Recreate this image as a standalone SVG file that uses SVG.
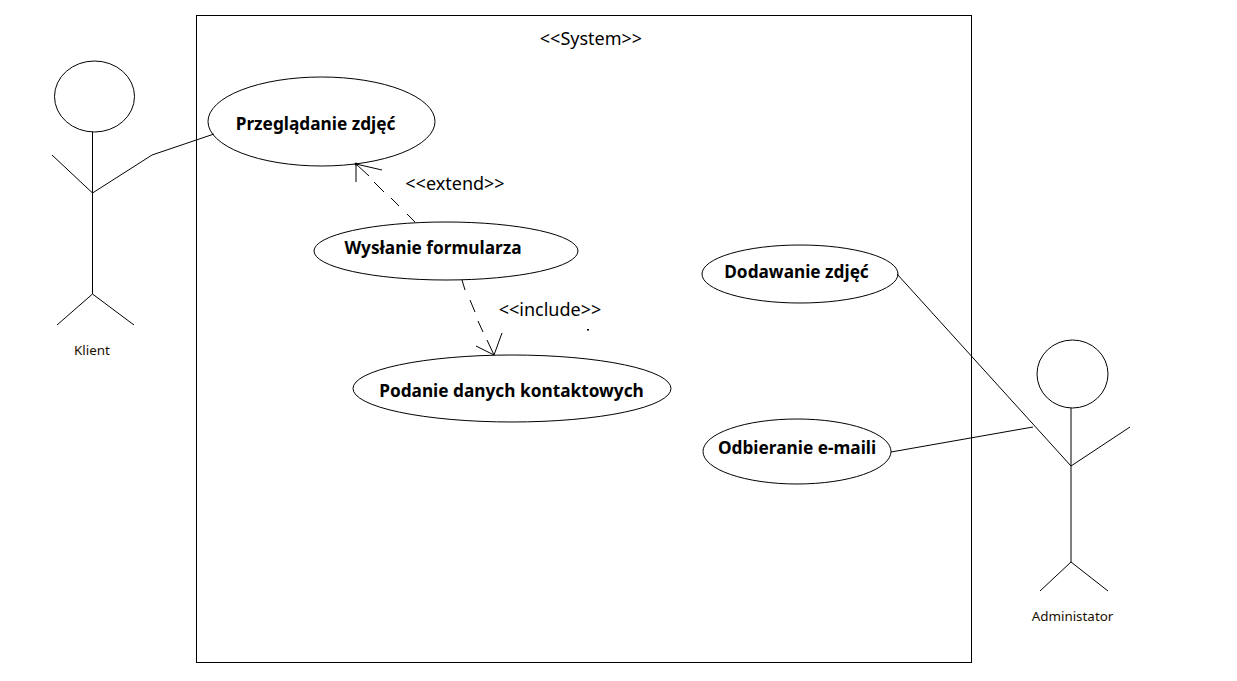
<svg xmlns="http://www.w3.org/2000/svg" width="1237" height="681" viewBox="0 0 1237 681">
<style>
.s{fill:none;stroke:#000;stroke-width:1}
.b{font-family:"Noto Sans","Open Sans",sans-serif;font-weight:700;font-size:17.25px;fill:#000;text-anchor:middle}
.l{font-family:"Noto Sans","Open Sans",sans-serif;font-size:18px;fill:#000;text-anchor:middle}
.a{font-family:"Noto Sans","Open Sans",sans-serif;font-size:13.4px;fill:#1a1000;text-anchor:middle}
</style>
<rect width="1237" height="681" fill="#fff"/>
<g id="system">
<rect class="s" x="196.5" y="15.5" width="775" height="647"/>
<text class="l" x="591" y="45">&lt;&lt;System&gt;&gt;</text>
</g>
<g id="connectors">
<path class="s" d="M92.5 193L152 155L214 134"/>
<path class="s" d="M1071 466L897 274"/>
<path class="s" d="M891 452L1033 427"/>
<path class="s" d="M356 164L369 176M374 182L384 192M391 198L399 206M407 214L415 222"/>
<path class="s" d="M382 170L356 164L356 182"/>
<circle cx="356" cy="164" r="1.5" fill="#000"/>
<path class="s" d="M462 280L465 290M470 300L475 312M478 321L483 332M487 340L494 355"/>
<path class="s" d="M476 346L494 355L502 333"/>
<rect x="587" y="329" width="2" height="1.5" fill="#000"/>
<text class="l" x="455" y="190">&lt;&lt;extend&gt;&gt;</text>
<text class="l" x="550" y="316">&lt;&lt;include&gt;&gt;</text>
</g>
<g id="klient">
<ellipse class="s" cx="94.5" cy="96.5" rx="40" ry="35.5"/>
<path class="s" d="M92.5 132V294M52 155L92.5 193M57 325L92.5 294L134 325"/>
<text class="a" x="92" y="355">Klient</text>
</g>
<g id="administrator">
<ellipse class="s" cx="1072.5" cy="374" rx="35.5" ry="34"/>
<path class="s" d="M1071 408V562M1071 466L1130 427M1040 591L1071 562L1108 591"/>
<text class="a" x="1072.5" y="621">Administator</text>
</g>
<g id="uc-przegladanie">
<ellipse class="s" cx="321.5" cy="121.5" rx="113.5" ry="44.5"/>
<text class="b" x="315.5" y="130">Przeglądanie zdjęć</text>
</g>
<g id="uc-wyslanie">
<ellipse class="s" cx="446" cy="251" rx="132" ry="29"/>
<text class="b" x="433" y="254">Wysłanie formularza</text>
</g>
<g id="uc-podanie">
<ellipse class="s" cx="512" cy="388.5" rx="159" ry="33.5"/>
<text class="b" x="511.5" y="397">Podanie danych kontaktowych</text>
</g>
<g id="uc-dodawanie">
<ellipse class="s" cx="800" cy="274" rx="98" ry="29"/>
<text class="b" x="796.5" y="278">Dodawanie zdjęć</text>
</g>
<g id="uc-odbieranie">
<ellipse class="s" cx="797" cy="451.5" rx="94" ry="32.5"/>
<text class="b" x="797" y="454">Odbieranie e-maili</text>
</g>
</svg>
